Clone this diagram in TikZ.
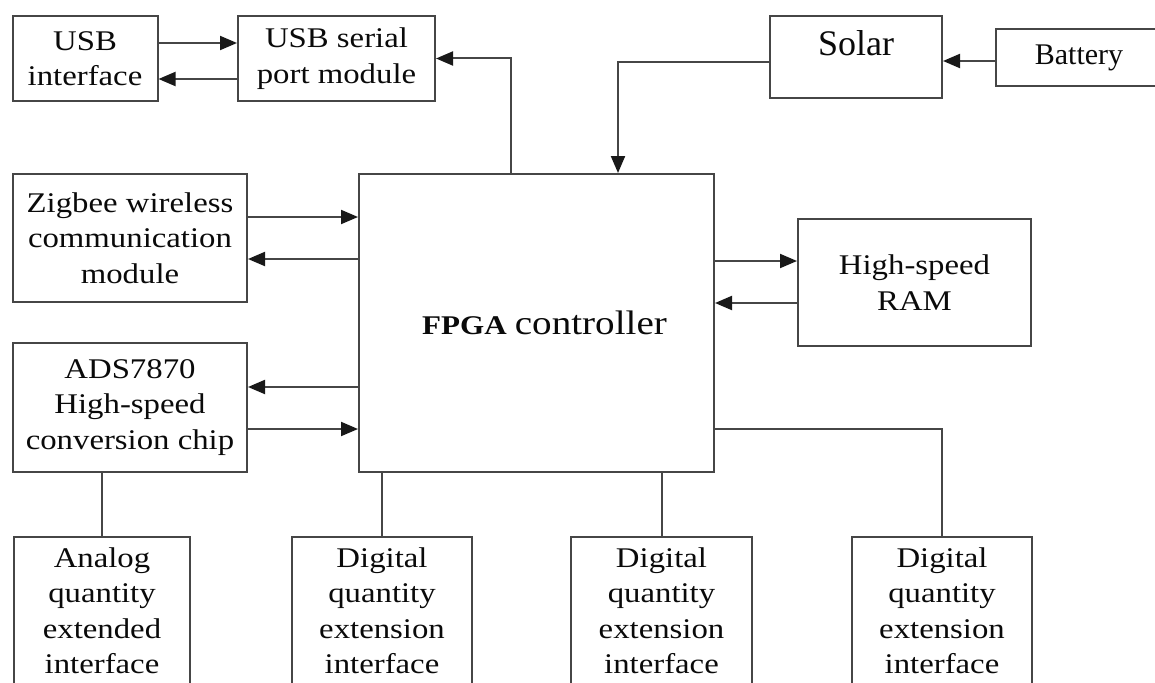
\documentclass[tikz,border=0pt]{standalone}
\usepackage{fontspec}
\setmainfont[FakeStretch=1.15]{Liberation Serif}
\newfontfamily\plainfont{Liberation Serif}
\usetikzlibrary{arrows.meta}
\newcommand\myfs[2]{\fontsize{#1}{#2}\selectfont}
\definecolor{linec}{RGB}{70,70,70}
\definecolor{textc}{RGB}{10,10,10}
\tikzset{
  box/.style={draw=linec, line width=2pt, rectangle, inner sep=0pt, align=center,
              text=textc, font=\myfs{28.5}{35.5}},
  conn/.style={draw=linec, line width=2pt},
  arr/.style={conn, -{Triangle[length=17pt,width=14pt,color=black!90]}},
  toplabel/.style={anchor=north, text=textc, align=center, font=\myfs{28.5}{35.5}, inner sep=0pt},
}
\begin{document}
\begin{tikzpicture}[x=1pt, y=-1pt]
\clip (0,0) rectangle (1155,682);
\fill[white] (0,0) rectangle (1155,682);

% boxes
\node[box, minimum width=145, minimum height=85] (usbif) at (85,58.5) {USB\\interface};
\node[box, minimum width=197, minimum height=85] (usbser) at (336.5,58.5) {USB serial\\port module};
\node[box, minimum width=172, minimum height=82,
      label={[anchor=base, text=textc, inner sep=0pt, font=\plainfont\myfs{36}{40}, yshift=-41pt]north:Solar}] (solar) at (856,57) {};
\node[box, minimum width=166, minimum height=57, font=\plainfont\myfs{30}{34}] (battery) at (1079,57.5) {Battery};
\node[box, minimum width=234, minimum height=128] (zigbee) at (130,238) {Zigbee wireless\\communication\\module};
\node[box, minimum width=355, minimum height=298] (fpga) at (536.5,323)
  {\hspace*{16pt}{\myfs{27}{30}\bfseries FPGA} {\myfs{34}{40}controller}};
\node[box, minimum width=233, minimum height=127] (ram) at (914.5,282.5) {High-speed\\RAM};
\node[box, minimum width=234, minimum height=129] (ads) at (130,407.5) {ADS7870\\High-speed\\conversion chip};

\node[box, anchor=north, minimum width=176, minimum height=190,
      label={[toplabel, yshift=-11.5pt]north:Analog\\quantity\\extended\\interface}] (analog) at (102,536) {};
\node[box, anchor=north, minimum width=180, minimum height=190,
      label={[toplabel, yshift=-11.5pt]north:Digital\\quantity\\extension\\interface}] (dig1) at (382,536) {};
\node[box, anchor=north, minimum width=181, minimum height=190,
      label={[toplabel, yshift=-11.5pt]north:Digital\\quantity\\extension\\interface}] (dig2) at (661.5,536) {};
\node[box, anchor=north, minimum width=180, minimum height=190,
      label={[toplabel, yshift=-11.5pt]north:Digital\\quantity\\extension\\interface}] (dig3) at (942,536) {};

% connectors
\draw[arr] (usbif.east |- 0,43) -- (usbser.west |- 0,43);
\draw[arr] (usbser.west |- 0,79) -- (usbif.east |- 0,79);
\draw[arr] (fpga.north -| 511,0) |- (usbser.east);
\draw[arr] (solar.west |- 0,62) -| (fpga.north -| 618,0);
\draw[arr] (battery.west |- 0,61) -- (solar.east |- 0,61);

\draw[arr] (zigbee.east |- 0,217) -- (fpga.west |- 0,217);
\draw[arr] (fpga.west |- 0,259) -- (zigbee.east |- 0,259);
\draw[arr] (fpga.east |- 0,261) -- (ram.west |- 0,261);
\draw[arr] (ram.west |- 0,303) -- (fpga.east |- 0,303);
\draw[arr] (fpga.west |- 0,387) -- (ads.east |- 0,387);
\draw[arr] (ads.east |- 0,429) -- (fpga.west |- 0,429);

\draw[conn] (ads.south -| analog.north) -- (analog.north);
\draw[conn] (fpga.south -| dig1.north) -- (dig1.north);
\draw[conn] (fpga.south -| dig2.north) -- (dig2.north);
\draw[conn] (fpga.east |- 0,429) -| (dig3.north);
\end{tikzpicture}
\end{document}
